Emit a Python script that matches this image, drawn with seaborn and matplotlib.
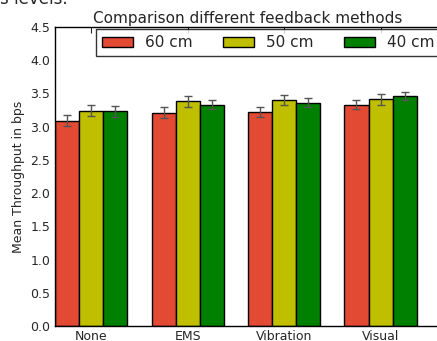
import pandas as pd
import matplotlib
matplotlib.use("Agg")
import matplotlib.pyplot as plt
import seaborn as sns

# values
methods = ["None", "EMS", "Vibration", "Visual"]
distances = ["60 cm", "50 cm", "40 cm"]
means = {
    "60 cm": [3.09, 3.21, 3.22, 3.33],
    "50 cm": [3.24, 3.38, 3.40, 3.41],
    "40 cm": [3.23, 3.33, 3.36, 3.46],
}
errors = {
    "60 cm": [0.08, 0.08, 0.07, 0.07],
    "50 cm": [0.08, 0.08, 0.075, 0.08],
    "40 cm": [0.08, 0.07, 0.065, 0.065],
}
colors = ["#E24A33", "#BFBF00", "#008000"]

rows = []
for d in distances:
    for m, v, e in zip(methods, means[d], errors[d]):
        rows.append({"method": m, "distance": d, "mean": v, "err": e})
df = pd.DataFrame(rows)

sns.set_style("white")
plt.rcParams['font.family'] = ['DejaVu Sans']

fig = plt.figure(figsize=(4.37, 3.41), dpi=100)
# the original chart is cropped on the right, so the axes run past the edge
ax = fig.add_axes([0.126, 0.044, 0.938, 0.877])

sns.barplot(data=df, x="method", y="mean", hue="distance", order=methods,
            hue_order=distances, palette=colors, width=0.75, errorbar=None,
            edgecolor="black", linewidth=1, saturation=1, ax=ax)

# error bars at the bar centres
for container, d in zip(ax.containers, distances):
    xs = [p.get_x() + p.get_width() / 2 for p in container.patches]
    ax.errorbar(xs, means[d], yerr=errors[d], fmt="none", ecolor="#555555",
                elinewidth=1, capsize=3, capthick=1, zorder=5)

ax.set_xlim(-0.375, 3.875)
ax.set_ylim(0, 4.5)
ax.set_yticks([i * 0.5 for i in range(10)])
ax.set_xlabel("")
ax.set_ylabel("Mean Throughput in bps", fontsize=9)
ax.set_title("Comparison different feedback methods", fontsize=11, pad=3,
             x=0.47)
ax.tick_params(direction="in", top=True, right=True, length=4, labelsize=9)
ax.tick_params(axis="x", pad=3)
for s in ax.spines.values():
    s.set_color("black")
    s.set_linewidth(1)

leg = ax.legend(loc="upper left", bbox_to_anchor=(0.095, 1.0), ncol=3,
                fontsize=11, frameon=True, fancybox=False, borderaxespad=0.15,
                columnspacing=2.0, handletextpad=0.8, handlelength=2.0)
leg.get_frame().set_edgecolor("black")
leg.get_frame().set_linewidth(1)

# tail of the page text above the figure, mostly cut off
fig.text(0.0, 1 - 4 / 341, "s levels.", fontsize=12, va="baseline", ha="left")

fig.savefig("out.png", dpi=100)
